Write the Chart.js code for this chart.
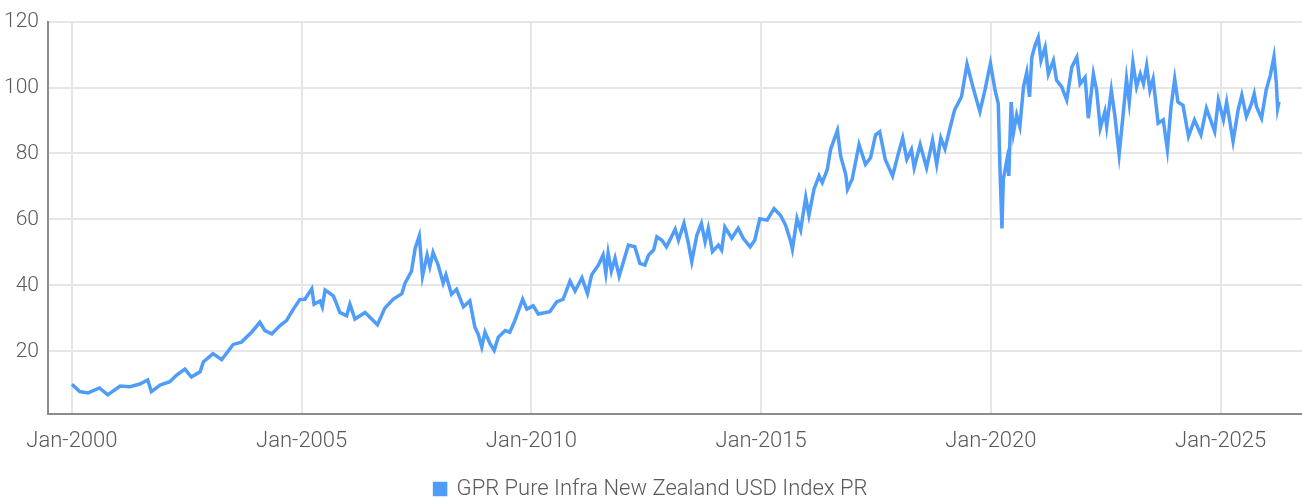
<!DOCTYPE html>
<html>
<head>
<meta charset="utf-8">
<script src="https://cdn.jsdelivr.net/npm/chart.js@4/dist/chart.umd.min.js"></script>
<style>
  html, body { margin: 0; padding: 0; background: #fff; }
  #wrap { width: 1302px; height: 500px; }
</style>
</head>
<body>
<div id="wrap"><canvas id="chart" width="1302" height="500"></canvas></div>
<script>
// Dates as decimal years
const DATES = [
  2000.00, 2000.17, 2000.35, 2000.60, 2000.78, 2001.05, 2001.26, 2001.48, 2001.65, 2001.73,
  2001.92, 2002.13, 2002.28, 2002.46, 2002.60, 2002.79, 2002.86, 2003.07, 2003.26, 2003.51,
  2003.69, 2003.91, 2004.09, 2004.20, 2004.35, 2004.53, 2004.67, 2004.82, 2004.96, 2005.07,
  2005.22, 2005.27, 2005.40, 2005.45, 2005.51, 2005.69, 2005.75, 2005.83, 2005.98, 2006.05,
  2006.16, 2006.38, 2006.49, 2006.65, 2006.81, 2006.99, 2007.18, 2007.25, 2007.39, 2007.47,
  2007.56, 2007.63, 2007.73, 2007.79, 2007.86, 2007.97, 2008.08, 2008.14, 2008.26, 2008.37,
  2008.52, 2008.66, 2008.77, 2008.84, 2008.92, 2008.99, 2009.10, 2009.19, 2009.28, 2009.43,
  2009.53, 2009.64, 2009.81, 2009.90, 2010.04, 2010.15, 2010.40, 2010.55, 2010.69, 2010.84,
  2010.95, 2011.10, 2011.22, 2011.31, 2011.46, 2011.56, 2011.62, 2011.67, 2011.74, 2011.82,
  2011.91, 2012.11, 2012.25, 2012.36, 2012.47, 2012.55, 2012.66, 2012.73, 2012.84, 2012.94,
  2013.13, 2013.20, 2013.32, 2013.41, 2013.49, 2013.60, 2013.70, 2013.78, 2013.85, 2013.94,
  2014.07, 2014.14, 2014.21, 2014.36, 2014.50, 2014.61, 2014.76, 2014.86, 2014.97, 2015.13,
  2015.28, 2015.42, 2015.53, 2015.64, 2015.68, 2015.78, 2015.86, 2015.97, 2016.04, 2016.15,
  2016.26, 2016.33, 2016.44, 2016.51, 2016.66, 2016.73, 2016.84, 2016.88, 2016.98, 2017.13,
  2017.27, 2017.38, 2017.49, 2017.58, 2017.70, 2017.86, 2017.99, 2018.08, 2018.17, 2018.27,
  2018.33, 2018.46, 2018.60, 2018.73, 2018.82, 2018.91, 2019.00, 2019.10, 2019.21, 2019.36,
  2019.48, 2019.61, 2019.76, 2019.87, 2019.99, 2020.09, 2020.16, 2020.20, 2020.24, 2020.27,
  2020.35, 2020.39, 2020.44, 2020.49, 2020.56, 2020.63, 2020.71, 2020.78, 2020.84, 2020.89,
  2020.96, 2021.03, 2021.09, 2021.18, 2021.25, 2021.36, 2021.43, 2021.54, 2021.65, 2021.76,
  2021.87, 2021.94, 2022.05, 2022.12, 2022.23, 2022.30, 2022.38, 2022.48, 2022.52, 2022.62,
  2022.70, 2022.79, 2022.88, 2022.95, 2023.01, 2023.09, 2023.17, 2023.25, 2023.32, 2023.39,
  2023.46, 2023.53, 2023.64, 2023.75, 2023.84, 2023.92, 2024.00, 2024.07, 2024.18, 2024.30,
  2024.43, 2024.57, 2024.69, 2024.87, 2024.95, 2025.06, 2025.13, 2025.27, 2025.38, 2025.46,
  2025.56, 2025.67, 2025.73, 2025.78, 2025.89, 2025.99, 2026.08, 2026.16, 2026.21, 2026.24,
  2026.27
];
const VALUES = [
  10.0, 7.8, 7.4, 8.9, 6.8, 9.5, 9.3, 10.1, 11.3, 7.8,
  9.8, 10.8, 12.8, 14.6, 12.2, 13.8, 16.8, 19.3, 17.5, 22.1,
  22.8, 25.8, 28.8, 26.3, 25.3, 27.8, 29.3, 32.8, 35.7, 35.8,
  39.0, 34.3, 35.3, 33.5, 38.6, 36.8, 34.8, 31.8, 30.8, 34.3,
  29.8, 31.8, 30.3, 28.1, 33.1, 35.8, 37.5, 40.7, 44.3, 51.2,
  55.0, 42.8, 49.2, 45.7, 50.0, 46.2, 40.7, 43.2, 37.3, 38.8,
  33.5, 35.3, 27.3, 25.3, 21.3, 25.8, 22.3, 20.3, 24.3, 26.3,
  25.8, 29.3, 35.8, 32.8, 33.8, 31.3, 32.0, 35.0, 35.8, 41.3,
  38.3, 42.3, 37.5, 43.2, 46.2, 49.2, 43.7, 49.8, 44.3, 48.3,
  42.8, 52.2, 51.7, 46.7, 46.2, 49.2, 50.7, 54.7, 53.7, 51.7,
  57.0, 53.7, 58.8, 53.2, 47.2, 55.2, 58.8, 53.2, 57.3, 50.2,
  52.2, 50.7, 57.7, 54.3, 57.3, 54.3, 51.7, 53.7, 60.2, 59.8,
  63.3, 61.3, 58.3, 53.5, 51.0, 60.3, 56.8, 66.7, 61.3, 69.2,
  73.2, 71.2, 75.2, 81.2, 87.0, 79.2, 73.7, 69.2, 72.2, 82.7,
  76.7, 78.7, 85.7, 86.6, 78.2, 73.2, 80.2, 84.7, 78.2, 81.2,
  75.7, 82.7, 75.7, 84.0, 76.7, 84.7, 81.4, 87.2, 93.2, 97.2,
  107.1, 100.1, 92.7, 99.2, 107.3, 99.2, 95.1, 74.2, 57.3, 72.2,
  78.2, 73.2, 95.6, 86.2, 91.7, 88.2, 100.2, 104.6, 97.2, 109.2,
  112.7, 115.2, 108.2, 112.2, 104.1, 108.2, 102.2, 100.2, 96.2, 106.2,
  109.2, 101.1, 103.1, 90.7, 104.1, 99.2, 87.7, 92.7, 88.2, 99.2,
  91.2, 79.7, 92.2, 102.6, 95.6, 107.6, 100.2, 104.1, 101.1, 106.6,
  99.2, 102.6, 89.2, 90.2, 81.2, 94.2, 102.6, 95.6, 94.6, 85.2,
  90.2, 85.7, 93.7, 86.7, 96.2, 90.2, 95.6, 83.7, 93.2, 97.7,
  91.2, 95.1, 98.1, 94.2, 90.7, 99.2, 103.7, 109.4, 101.6, 93.7,
  95.7
];
const X_TICKS = [2000, 2005, 2010, 2015, 2020, 2025];
const Y_TICKS = [20, 40, 60, 80, 100, 120];
const SERIES_NAME = "GPR Pure Infra New Zealand USD Index PR";

const FONT = "Roboto, 'Liberation Sans', sans-serif";
const LINE_BLUE = "#4f9cf9";
const TEXT_GREY = "#595959";

const points = DATES.map((d, i) => ({ x: d, y: VALUES[i] }));

new Chart(document.getElementById("chart"), {
  type: "line",
  data: {
    datasets: [{
      label: SERIES_NAME,
      data: points,
      borderColor: LINE_BLUE,
      backgroundColor: LINE_BLUE,
      borderWidth: 3.5,
      pointRadius: 0,
      tension: 0,
      fill: false
    }]
  },
  options: {
    responsive: false,
    animation: false,
    // negative bottom padding pushes the legend down to the edge like the original
    layout: { padding: { top: 6, right: 0, left: 0, bottom: -10 } },
    scales: {
      x: {
        type: "linear",
        min: 1999.48,
        max: 2026.77,
        afterBuildTicks: axis => { axis.ticks = X_TICKS.map(v => ({ value: v })); },
        afterFit: scale => { scale.height = 46; },
        ticks: {
          color: TEXT_GREY,
          font: { family: FONT, size: 22, weight: "300" },
          padding: 14,
          maxRotation: 0,
          callback: v => "Jan-" + v
        },
        grid: { color: "#e6e6e6", lineWidth: 2, drawTicks: false },
        border: { display: true, color: "#8c8c8c", width: 2 }
      },
      y: {
        min: 1,
        max: 120,
        afterBuildTicks: axis => { axis.ticks = Y_TICKS.map(v => ({ value: v })); },
        afterFit: scale => { scale.width = 48; },
        ticks: {
          color: TEXT_GREY,
          font: { family: FONT, size: 21, weight: "300" },
          padding: 9
        },
        grid: { color: "#e6e6e6", lineWidth: 2, drawTicks: false },
        border: { display: true, color: "#8c8c8c", width: 2 }
      }
    },
    plugins: {
      legend: {
        position: "bottom",
        labels: {
          color: TEXT_GREY,
          font: { family: FONT, size: 22, weight: "300" },
          boxWidth: 11,
          boxHeight: 11,
          padding: 18
        }
      },
      tooltip: { enabled: false }
    }
  }
});
</script>
</body>
</html>
